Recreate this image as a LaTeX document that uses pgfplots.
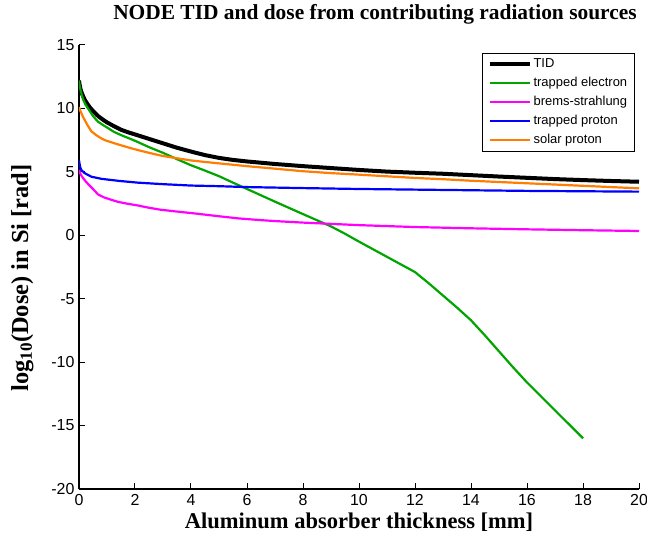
\documentclass[border=0pt]{standalone}
\usepackage{fontspec}
\setmainfont{Liberation Serif}
\newfontfamily\arialfont{Liberation Sans}
\usepackage{pgfplots}
\pgfplotsset{compat=1.18}
\definecolor{mgreen}{RGB}{0,165,0}
\definecolor{morange}{RGB}{255,125,0}
\definecolor{mmagenta}{RGB}{255,0,255}
\definecolor{mblue}{RGB}{0,0,255}
\begin{document}
\begin{tikzpicture}
  \begin{axis}[
    scale only axis,
    width=560bp, height=444bp,
    xmin=0, xmax=20, ymin=-20, ymax=15,
    xtick={0,2,...,20}, ytick={-20,-15,...,15},
    axis x line=bottom, axis y line=left,
    axis line style={-, line width=1.1bp},
    tick align=inside,
    major tick length=6bp,
    tick style={line width=1bp, black},
    /pgf/number format/assume math mode=true,
    ticklabel style={font=\arialfont\fontsize{16}{19}\selectfont},
    xticklabel style={yshift=-2bp},
    yticklabel style={xshift=-1bp},
    title={NODE TID and dose from contributing radiation sources},
    title style={font=\bfseries\fontsize{21.5}{24}\selectfont,
      at={(axis description cs:0.5,1)}, anchor=base, yshift=20bp, xshift=16bp},
    xlabel={Aluminum absorber thickness [mm]},
    xlabel style={font=\bfseries\fontsize{22.6}{26}\selectfont,
      at={(axis description cs:0.5,0)}, anchor=base, yshift=-39bp},
    ylabel={log\textsubscript{10}(Dose) in Si [rad]},
    ylabel style={font=\bfseries\fontsize{24.5}{28}\selectfont,
      at={(axis description cs:-0.091,0.475)}, anchor=base, rotate=0},
    legend style={at={(0.993,0.982)}, anchor=north east,
      draw=black, line width=0.8bp,
      font=\arialfont\fontsize{13}{15}\selectfont,
      nodes={inner sep=1.5bp, text height=10bp, text depth=3bp},
      row sep=3bp, inner xsep=6bp, inner ysep=3bp},
    legend cell align=left,
    legend image code/.code={\draw[#1] (0bp,0bp) -- (40bp,0bp);},
  ]
  % TID
  \addplot[black, line width=4bp] coordinates {
    (0,12.2) (0.02,11.9) (0.05,11.55) (0.1,11.2) (0.15,10.95) (0.2,10.7)
    (0.3,10.35) (0.4,10.05) (0.5,9.8) (0.6,9.57) (0.7,9.37) (0.85,9.12)
    (1,8.9) (1.25,8.6) (1.5,8.32) (1.75,8.12) (2,7.95) (2.5,7.6) (3,7.25)
    (3.5,6.9) (4,6.6) (4.5,6.32) (5,6.1) (5.5,5.94) (6,5.82) (6.5,5.72)
    (7,5.62) (8,5.45) (9,5.3) (10,5.15) (11,5.02) (12,4.93) (13,4.85)
    (14,4.74) (15,4.63) (16,4.53) (17,4.43) (18,4.35) (19,4.28) (20,4.22)
  };
  % trapped electron
  \addplot[mgreen, line width=2.2bp] coordinates {
    (0,12.2) (0.02,11.85) (0.05,11.5) (0.1,11.05) (0.15,10.7) (0.22,10.35)
    (0.32,10.0) (0.5,9.4) (0.68,8.95) (0.85,8.7) (1,8.5) (1.25,8.15)
    (1.5,7.9) (2,7.45) (2.5,6.95) (3,6.5) (3.5,6.0) (4,5.52) (4.5,5.1)
    (5,4.66) (5.5,4.15) (6,3.65) (7,2.65) (8,1.67) (9,0.7) (9.5,0.12)
    (10,-0.5) (10.5,-1.1) (11,-1.7) (11.5,-2.3) (12,-2.9) (12.5,-3.8)
    (13,-4.75) (13.5,-5.7) (14,-6.7) (14.5,-7.9) (15,-9.15) (15.5,-10.4)
    (16,-11.6) (16.5,-12.7) (17,-13.8) (17.5,-14.9) (18,-16.0)
  };
  % brems-strahlung
  \addplot[mmagenta, line width=2.2bp] coordinates {
    (0,5.15) (0.05,4.85) (0.1,4.65) (0.2,4.35) (0.32,4.05) (0.5,3.65)
    (0.68,3.22) (0.9,2.98) (1.15,2.8) (1.4,2.63) (1.7,2.5) (2.1,2.35)
    (2.5,2.17) (2.9,2.02) (3.5,1.87) (4.1,1.73) (5,1.5) (5.7,1.33)
    (6.46,1.2) (7,1.12) (8,1.0) (9,0.9) (10,0.8) (12,0.65) (14,0.55)
    (16,0.47) (18,0.4) (20,0.34)
  };
  % trapped proton
  \addplot[mblue, line width=2.2bp] coordinates {
    (0,5.9) (0.04,5.4) (0.08,5.15) (0.2,4.9) (0.44,4.62) (0.8,4.45)
    (1.15,4.36) (1.46,4.28) (2.1,4.15) (3,4.03) (4,3.92) (5,3.87)
    (6,3.8) (8,3.72) (10,3.65) (12,3.6) (14,3.55) (16,3.5) (18,3.47)
    (20,3.44)
  };
  % solar proton
  \addplot[morange, line width=2.2bp] coordinates {
    (0,10.1) (0.03,9.9) (0.07,9.7) (0.14,9.35) (0.2,9.1) (0.3,8.7)
    (0.44,8.2) (0.6,7.92) (0.75,7.7) (0.92,7.5) (1.2,7.3) (1.46,7.12)
    (1.8,6.9) (2.1,6.72) (2.65,6.42) (3,6.25) (3.5,6.07) (4,5.9)
    (4.5,5.78) (5,5.67) (6,5.45) (7,5.25) (8,5.05) (9,4.9) (10,4.78)
    (11,4.65) (12,4.52) (13,4.42) (14,4.3) (15,4.2) (16,4.1) (17,4.0)
    (18,3.9) (19,3.8) (20,3.7)
  };
  \legend{TID, trapped electron, brems-strahlung, trapped proton, solar proton}
  \coordinate (bl) at (rel axis cs:0,0);
  \coordinate (tr) at (rel axis cs:1,1);
  \end{axis}
  \pgfresetboundingbox
  \path[use as bounding box] ([xshift=-79bp,yshift=-48bp]bl) rectangle ([xshift=8bp,yshift=45bp]tr);
\end{tikzpicture}
\end{document}
